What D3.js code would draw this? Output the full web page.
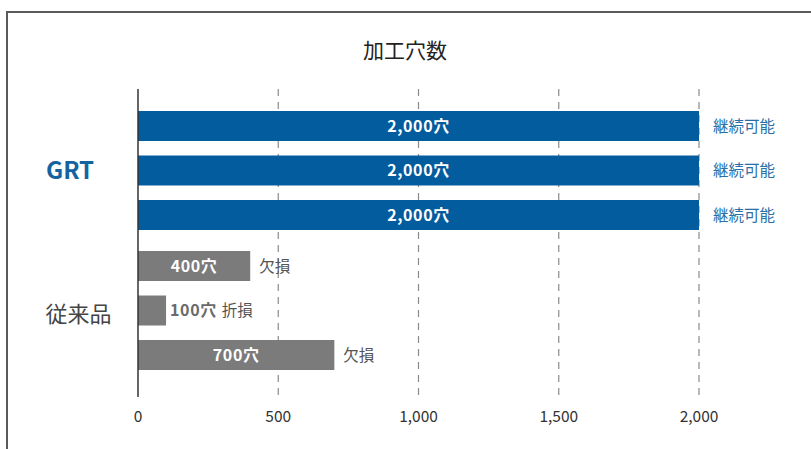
<!DOCTYPE html>
<html><head><meta charset="utf-8">
<script src="https://cdn.jsdelivr.net/npm/d3@7"></script>
<style>body{margin:0;background:#fff;}svg{display:block;font-family:"Noto Sans CJK JP","Noto Sans",sans-serif;}</style>
</head><body>
<svg id="c" width="811" height="449"></svg>
<script>
const groups = ["GRT", "従来品"];
const bars = [
  {group:"GRT", idx:0, value:2000, status:"継続可能"},
  {group:"GRT", idx:1, value:2000, status:"継続可能"},
  {group:"GRT", idx:2, value:2000, status:"継続可能"},
  {group:"従来品", idx:0, value:400, status:"欠損"},
  {group:"従来品", idx:1, value:100, status:"折損"},
  {group:"従来品", idx:2, value:700, status:"欠損"}
];
const ticks = [0, 500, 1000, 1500, 2000];
const title = "加工穴数";
const unit = "穴";

const svg = d3.select("#c");
const blue = "#035c9e", gray = "#7b7b7b";

// frame
svg.append("path").attr("d","M7,460 L7,12 L820,12").attr("fill","none").attr("stroke","#5a5a5a").attr("stroke-width",2);

svg.append("text").attr("x",405).attr("y",58).attr("text-anchor","middle")
  .attr("font-size",21).attr("fill","#222").text(title);

const x = d3.scaleLinear().domain([0,2000]).range([138,699]);
const yG = d3.scaleBand().domain(groups).range([100.5,380.5]);
const yI = d3.scaleBand().domain([0,1,2]).range([0,yG.bandwidth()]).paddingInner(0.326).paddingOuter(0.236);

// grid
svg.append("g").selectAll("line").data(ticks.slice(1)).join("line")
  .attr("x1",d=>x(d)).attr("x2",d=>x(d)).attr("y1",89).attr("y2",395)
  .attr("stroke","#8a8a8a").attr("stroke-width",1.2).attr("stroke-dasharray","7,6");

// bars
const g = svg.append("g");
g.selectAll("rect").data(bars).join("rect")
  .attr("x",x(0)).attr("y",d=>yG(d.group)+yI(d.idx))
  .attr("width",d=>x(d.value)-x(0)).attr("height",yI.bandwidth())
  .attr("fill",d=>d.group==="GRT"?blue:gray);

// value labels
bars.forEach(d=>{
  const yc = yG(d.group)+yI(d.idx)+yI.bandwidth()/2;
  const w = x(d.value)-x(0);
  const lbl = d3.format(",")(d.value)+unit;
  let endX;
  if (w > 80) {
    g.append("text").attr("x",(x(0)+x(d.value))/2).attr("y",yc).attr("dy","0.36em")
      .attr("text-anchor","middle").attr("font-size",16).attr("font-weight","bold")
      .attr("letter-spacing",0.6).attr("fill","#fff").text(lbl);
    endX = x(d.value) + (d.group==="GRT"?14:9);
  } else {
    const t = g.append("text").attr("x",x(d.value)+4).attr("y",yc).attr("dy","0.36em")
      .attr("font-size",16).attr("font-weight","bold").attr("letter-spacing",0.6)
      .attr("fill","#6a6a6a").text(lbl);
    endX = x(d.value)+4+t.node().getComputedTextLength()+5;
  }
  g.append("text").attr("x",endX).attr("y",yc).attr("dy","0.36em")
    .attr("font-size",15.5).attr("fill",d.group==="GRT"?"#2a6fa8":"#555").text(d.status);
});

// y axis line
svg.append("line").attr("x1",138).attr("x2",138).attr("y1",89).attr("y2",397)
  .attr("stroke","#333").attr("stroke-width",1.5);

// group labels
svg.selectAll(".gl").data(groups).join("text").attr("class","gl")
  .attr("x",d=>d==="GRT"?70:78.5).attr("y",d=>yG(d)+yG.bandwidth()/2+(d==="GRT"?0:3.5)).attr("dy","0.36em")
  .attr("text-anchor","middle").attr("font-size",d=>d==="GRT"?24:22)
  .attr("font-weight",d=>d==="GRT"?"bold":"normal")
  .attr("fill",d=>d==="GRT"?"#1463a0":"#444").text(d=>d);

// x tick labels
svg.selectAll(".tk").data(ticks).join("text").attr("class","tk")
  .attr("x",d=>x(d)).attr("y",416).attr("dy","0.36em").attr("text-anchor","middle")
  .attr("font-size",15.5).attr("fill","#333").text(d=>d3.format(",")(d));
</script>
</body></html>
